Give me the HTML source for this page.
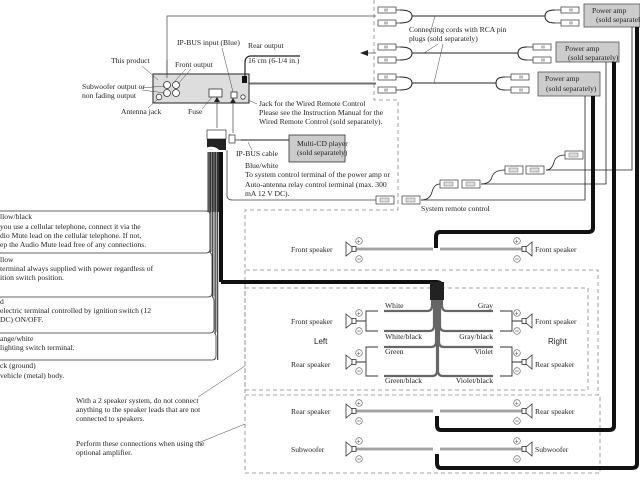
<!DOCTYPE html>
<html><head><meta charset="utf-8"><style>
html,body{margin:0;padding:0;background:#fff;width:640px;height:480px;overflow:hidden}
svg{display:block}
text{font-family:"Liberation Serif",serif;font-size:7.6px;fill:#222}
.s{font-family:"Liberation Sans",sans-serif;font-size:8px}
</style></head><body>
<svg width="640" height="480" viewBox="0 0 640 480" xmlns="http://www.w3.org/2000/svg">
<defs>
<g id="pl"><rect x="0" y="-3" width="18" height="6" fill="#fff" stroke="#333" stroke-width="0.7"/><rect x="6" y="-1.5" width="4" height="3" fill="#bbb"/><line x1="18" y1="0" x2="24" y2="0" stroke="#333" stroke-width="0.8"/></g>
<g id="pr"><rect x="6" y="-3" width="18" height="6" fill="#fff" stroke="#333" stroke-width="0.7"/><rect x="14" y="-1.5" width="4" height="3" fill="#bbb"/><line x1="0" y1="0" x2="6" y2="0" stroke="#333" stroke-width="0.8"/></g>
<g id="cn"><rect x="0" y="-4" width="18" height="8" fill="#fff" stroke="#333" stroke-width="0.7"/><rect x="4" y="-2" width="9" height="4" fill="#ddd" stroke="#555" stroke-width="0.4"/></g>
<g id="spL"><polygon points="0,-7 6,-2 6,2 0,7" fill="#fff" stroke="#333" stroke-width="0.8"/><rect x="6" y="-2.5" width="4" height="5" fill="#fff" stroke="#333" stroke-width="0.8"/></g>
<g id="spR"><polygon points="10,-7 4,-2 4,2 10,7" fill="#fff" stroke="#333" stroke-width="0.8"/><rect x="0" y="-2.5" width="4" height="5" fill="#fff" stroke="#333" stroke-width="0.8"/></g>
<g id="pm"><circle cx="0" cy="-8" r="3.3" fill="#fff" stroke="#555" stroke-width="0.6"/><text x="-2.3" y="-5.6" style="font-size:7px">+</text><circle cx="0" cy="10" r="3.3" fill="#fff" stroke="#555" stroke-width="0.6"/><line x1="-1.8" y1="10" x2="1.8" y2="10" stroke="#444" stroke-width="0.6"/></g>
</defs>

<g fill="none" stroke="#888" stroke-width="0.8" stroke-dasharray="4,3">
<path d="M374 0 V100 H398 V210 H245 V270 H598 V395"/>
<path d="M245 288 H588 V390 H245 Z"/>
<path d="M245 395 H600 V473 H245 Z"/>
<path d="M245 270 V395"/>
</g>

<g fill="none" stroke="#444" stroke-width="0.7">
<path d="M167 80 V16 H376"/>
<path d="M189 92 H198 V83 H376"/>
<path d="M249 84 H376"/>
</g>
<polygon points="178,92 187,89 187,95" fill="#222"/>
<polygon points="360,53 368,50 368,56" fill="#222"/>
<line x1="368" y1="53" x2="376" y2="53" stroke="#444" stroke-width="0.7"/>

<rect x="153" y="74" width="96" height="29" fill="#ddd" stroke="#222" stroke-width="1"/>
<g fill="#fff" stroke="#333" stroke-width="0.8">
<circle cx="167" cy="85" r="3.5"/><circle cx="176" cy="85" r="3.5"/><circle cx="167" cy="93" r="3.5"/><circle cx="176" cy="93" r="3.5"/>
<circle cx="159" cy="97" r="2.8"/><circle cx="243" cy="97" r="2.2"/>
<rect x="209" y="89" width="13" height="8"/><rect x="231" y="92" width="6" height="6"/>
</g>
<rect x="242" y="76" width="5" height="7" fill="#111"/>
<path d="M245 76 V62 Q245 57 250 56 H300" fill="none" stroke="#222" stroke-width="1.2"/>

<g stroke="#444" stroke-width="0.7" fill="none"><line x1="217" y1="102" x2="217" y2="128"/><line x1="233" y1="102" x2="233" y2="133"/><line x1="167" y1="60" x2="167" y2="78"/></g>
<polygon points="214,102 220,102 217,97" fill="#222"/><polygon points="230,103 236,103 233,98" fill="#222"/>

<text x="111" y="63">This product</text>
<text x="175" y="67">Front output</text>
<text x="177" y="45">IP-BUS input (Blue)</text>
<text x="248" y="48">Rear output</text>
<text x="248" y="63">16 cm (6-1/4 in.)</text>
<text x="82" y="89">Subwoofer output or</text>
<text x="82" y="98">non fading output</text>
<text x="121" y="114">Antenna jack</text>
<text x="188" y="114">Fuse</text>
<text x="259" y="106">Jack for the Wired Remote Control</text>
<text x="259" y="115">Please see the Instruction Manual for the</text>
<text x="259" y="124">Wired Remote Control (sold separately).</text>
<g stroke="#444" stroke-width="0.5" fill="none"><line x1="142" y1="66" x2="158" y2="80"/><line x1="142" y1="88" x2="165" y2="86"/><line x1="142" y1="90" x2="165" y2="93"/><line x1="148" y1="108" x2="158" y2="99"/><line x1="202" y1="109" x2="212" y2="97"/><line x1="248" y1="100" x2="257" y2="104"/><line x1="222" y1="48" x2="233" y2="92"/><line x1="186" y1="69" x2="174" y2="82"/><line x1="191" y1="69" x2="178" y2="84"/></g>

<rect x="207" y="130" width="19" height="9" fill="#fff" stroke="#333" stroke-width="0.7"/>
<rect x="207" y="139" width="19" height="11" fill="#222"/>
<path d="M204 150 Q213 146 218 151 T230 150" stroke="#fff" stroke-width="3" fill="none"/>
<rect x="207.5" y="152" width="11.5" height="60" fill="#333"/>
<g stroke="#999" stroke-width="0.8" fill="none"><line x1="209" y1="152" x2="209" y2="212"/><line x1="211.5" y1="152" x2="211.5" y2="252"/><line x1="214" y1="152" x2="214" y2="296"/><line x1="216.5" y1="152" x2="216.5" y2="332"/></g>
<g stroke="#222" stroke-width="1" fill="none"><line x1="210.2" y1="212" x2="210.2" y2="253"/><line x1="212.7" y1="212" x2="212.7" y2="297"/><line x1="215.2" y1="212" x2="215.2" y2="333"/><line x1="217.7" y1="212" x2="217.7" y2="360"/></g>
<rect x="219" y="152" width="4" height="130" fill="#111"/>
<path d="M221 282 H436 Q442 282 442 288 V300" stroke="#111" stroke-width="4" fill="none"/>
<rect x="430" y="282" width="14" height="18" fill="#222"/>
<path d="M230 134 V140 H241" fill="#fff" stroke="#333" stroke-width="0.7"/>
<rect x="229" y="135" width="6" height="8" fill="#fff" stroke="#333" stroke-width="0.7"/>
<line x1="241" y1="140" x2="290" y2="140" stroke="#222" stroke-width="1"/>
<line x1="248" y1="142" x2="252" y2="150" stroke="#444" stroke-width="0.5"/>
<text x="236" y="156">IP-BUS cable</text>
<rect x="289" y="135" width="56" height="27" fill="#ccc" stroke="#333" stroke-width="0.8"/>
<text x="297" y="146">Multi-CD player</text>
<text x="297" y="155">(sold separately)</text>
<path d="M227 150 V195 Q227 200 232 200 H377" stroke="#444" stroke-width="0.8" fill="none"/>
<text x="245" y="168">Blue/white</text>
<text x="245" y="177">To system control terminal of the power amp or</text>
<text x="245" y="187">Auto-antenna relay control terminal (max. 300</text>
<text x="245" y="196">mA 12 V DC).</text>

<g stroke="#333" stroke-width="0.8" fill="none">
<path d="M0 211 H206 Q210 211 210 215 V249 Q210 253 206 253 H0"/>
<path d="M210 253 Q212 253 212 257 V293 Q212 297 208 297 H0"/>
<path d="M212 297 Q214 297 214 301 V329 Q214 333 210 333 H0"/>
<path d="M214 333 Q216 333 216 337 V356 Q216 360 212 360 H0"/>
</g>
<text x="0" y="219">llow/black</text>
<text x="0" y="229">you use a cellular telephone, connect it via the</text>
<text x="0" y="238">dio Mute lead on the cellular telephone. If not,</text>
<text x="0" y="247">ep the Audio Mute lead free of any connections.</text>
<text x="0" y="262">llow</text>
<text x="0" y="271">terminal always supplied with power regardless of</text>
<text x="0" y="280">ition switch position.</text>
<text x="0" y="304">d</text>
<text x="0" y="313">electric terminal controlled by ignition switch (12</text>
<text x="0" y="322">DC) ON/OFF.</text>
<text x="0" y="341">ange/white</text>
<text x="0" y="350">lighting switch terminal.</text>
<text x="0" y="368">ck (ground)</text>
<text x="0" y="378">vehicle (metal) body.</text>

<text x="76" y="403">With a 2 speaker system, do not connect</text>
<text x="76" y="412">anything to the speaker leads that are not</text>
<text x="76" y="421">connected to speakers.</text>
<text x="76" y="446">Perform these connections when using the</text>
<text x="76" y="455">optional amplifier.</text>
<g stroke="#444" stroke-width="0.5"><line x1="198" y1="397" x2="245" y2="366"/><line x1="198" y1="443" x2="245" y2="424"/></g>

<g fill="none" stroke="#222" stroke-width="1">
<path d="M400 10 Q412 10 412 16 Q412 23 400 23"/><line x1="412" y1="16" x2="545" y2="16"/><path d="M555 10 Q545 10 545 16 Q545 23 555 23"/>
<path d="M400 47 Q412 47 412 53 Q412 60 400 60"/><line x1="412" y1="53" x2="518" y2="53"/><path d="M527 47 Q518 47 518 53 Q518 60 527 60"/>
<path d="M400 77 Q412 77 412 83 Q412 90 400 90"/><line x1="412" y1="83" x2="496" y2="83"/><path d="M505 77 Q496 77 496 83 Q496 90 505 90"/>
</g>
<use href="#pl" x="378" y="10"/><use href="#pl" x="378" y="23"/>
<use href="#pl" x="378" y="47"/><use href="#pl" x="378" y="60"/>
<use href="#pl" x="378" y="77"/><use href="#pl" x="378" y="90"/>
<use href="#pr" x="555" y="10"/><use href="#pr" x="555" y="23"/>
<use href="#pr" x="527" y="47"/><use href="#pr" x="527" y="60"/>
<use href="#pr" x="505" y="77"/><use href="#pr" x="505" y="90"/>
<text x="409" y="32">Connecting cords with RCA pin</text>
<text x="409" y="41">plugs (sold separately)</text>
<g stroke="#444" stroke-width="0.5"><line x1="430" y1="34" x2="435" y2="16"/><line x1="443" y1="44" x2="434" y2="83"/><line x1="438" y1="44" x2="424" y2="53"/></g>

<rect x="584" y="4" width="56" height="23" fill="#ccc" stroke="#555" stroke-width="0.8"/>
<text x="592" y="13">Power amp</text><text x="596" y="22">(sold separately)</text>
<rect x="556" y="42" width="63" height="20" fill="#ccc" stroke="#555" stroke-width="0.8"/>
<text x="565" y="51">Power amp</text><text x="568" y="60">(sold separately)</text>
<rect x="538" y="72" width="62" height="24" fill="#ccc" stroke="#555" stroke-width="0.8"/>
<text x="545" y="81">Power amp</text><text x="546" y="91">(sold separately)</text>

<g fill="none" stroke="#222" stroke-width="0.8">
<path d="M421 200 Q430 200 432 192 Q434 184 440 184"/>
<path d="M481 184 Q490 184 492 177 Q494 170 505 170"/>
<path d="M546 170 Q552 170 554 162 Q556 155 565 155"/>
<path d="M421 200 H585 V96"/><path d="M481 184 H606 V62"/><path d="M546 170 H632 V27"/>
</g>
<use href="#cn" x="376" y="200"/><use href="#cn" x="402" y="200"/>
<use href="#cn" x="440" y="184"/><use href="#cn" x="462" y="184"/>
<use href="#cn" x="505" y="170"/><use href="#cn" x="526" y="170"/>
<use href="#cn" x="565" y="155"/>
<text x="421" y="211">System remote control</text>

<g fill="none" stroke="#111" stroke-width="4" stroke-linejoin="round">
<path d="M593 96 V228 Q593 232 588 232 H440 Q436 232 436 237 V248"/>
<path d="M614 62 V426 Q614 430 609 430 H441 Q437 430 437 425 V416"/>
<path d="M637 27 V464 Q637 468 632 468 H441 Q437 468 437 463 V454"/>
</g>

<g fill="none" stroke="#666" stroke-width="2.4">
<path d="M356 249 H433 M440 249 H524"/>
<path d="M356 411 H433 M440 411 H524"/>
<path d="M356 449 H433 M440 449 H524"/>
</g>
<g fill="none" stroke="#ddd" stroke-width="1">
<path d="M356 249 H433 M440 249 H524"/>
<path d="M356 411 H433 M440 411 H524"/>
<path d="M356 449 H433 M440 449 H524"/>
</g>
<use href="#spL" x="346" y="249"/><use href="#spR" x="522" y="249"/>
<use href="#spL" x="346" y="411"/><use href="#spR" x="522" y="411"/>
<use href="#spL" x="346" y="449"/><use href="#spR" x="522" y="449"/>
<use href="#pm" x="359" y="249"/><use href="#pm" x="517" y="249"/>
<use href="#pm" x="359" y="411"/><use href="#pm" x="517" y="411"/>
<use href="#pm" x="359" y="449"/><use href="#pm" x="517" y="449"/>
<text x="291" y="252">Front speaker</text><text x="535" y="252">Front speaker</text>
<text x="291" y="414">Rear speaker</text><text x="535" y="414">Rear speaker</text>
<text x="291" y="452">Subwoofer</text><text x="535" y="452">Subwoofer</text>

<g fill="none" stroke="#666" stroke-width="2.2">
<path d="M432 300 V306 Q432 311 427 311 H384"/>
<path d="M434 300 V326 Q434 331 429 331 H384"/>
<path d="M436 300 V342 Q436 347 431 347 H384"/>
<path d="M437 300 V371 Q437 376 432 376 H384"/>
<path d="M442 300 V306 Q442 311 447 311 H493"/>
<path d="M440 300 V326 Q440 331 445 331 H493"/>
<path d="M439 300 V342 Q439 347 444 347 H493"/>
<path d="M438 300 V371 Q438 376 443 376 H493"/>
</g>
<g fill="none" stroke="#333" stroke-width="0.9">
<path d="M378 311 H366 V331 H378 M356 321 H366"/>
<path d="M378 347 H366 V376 H378 M356 362 H366"/>
<path d="M500 311 H512 V331 H500 M512 321 H522"/>
<path d="M500 347 H512 V376 H500 M512 362 H522"/>
</g>
<use href="#spL" x="346" y="321"/><use href="#spR" x="522" y="321"/>
<use href="#spL" x="346" y="362"/><use href="#spR" x="522" y="362"/>
<use href="#pm" x="359" y="321"/><use href="#pm" x="517" y="321"/>
<use href="#pm" x="359" y="361"/><use href="#pm" x="517" y="361"/>
<text x="291" y="324">Front speaker</text><text x="535" y="324">Front speaker</text>
<text x="291" y="367">Rear speaker</text><text x="535" y="367">Rear speaker</text>
<text class="s" x="314" y="344">Left</text><text class="s" x="548" y="344">Right</text>
<text x="385" y="308">White</text><text x="385" y="339">White/black</text>
<text x="385" y="354">Green</text><text x="385" y="383">Green/black</text>
<text x="493" y="308" text-anchor="end">Gray</text><text x="493" y="339" text-anchor="end">Gray/black</text>
<text x="493" y="354" text-anchor="end">Violet</text><text x="493" y="383" text-anchor="end">Violet/black</text>
</svg>
</body></html>
